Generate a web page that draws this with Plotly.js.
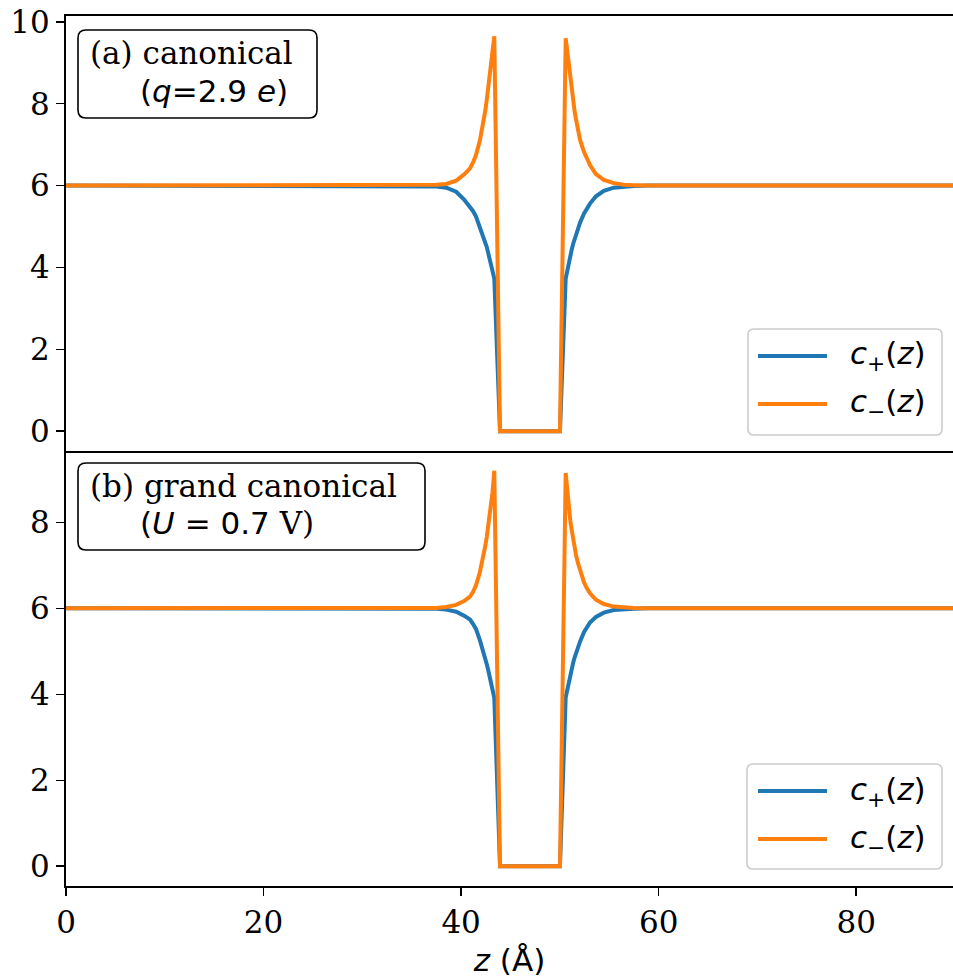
<!DOCTYPE html>
<html>
<head>
<meta charset="utf-8">
<script src="https://cdn.plot.ly/plotly-3.0.1.min.js"></script>
<style>html,body{margin:0;padding:0;background:#fff;}</style>
</head>
<body>
<div id="chart" style="width:953px;height:980px;"></div>
<script>
// z positions (Å)
const z = [0, 30, 35, 36.5, 37.5, 38.5, 39.5, 40.3, 40.9, 41.2, 41.5, 41.9, 42.1, 42.3, 42.45, 42.6, 42.75, 42.9, 43.0, 43.1, 43.18, 43.25, 43.31, 43.36, 43.94,
           50.01, 50.59, 50.64, 50.70, 50.78, 50.85, 50.95, 51.05, 51.2, 51.35, 51.5, 51.65, 51.85, 52.05, 52.45, 52.75, 53.05, 53.65, 54.45, 55.45, 56.5, 57.5, 58.95, 90];
// (a) canonical
const cPlusA  = [6, 6, 6.0, 6.0, 5.98, 5.95, 5.85, 5.66, 5.49, 5.38, 5.25, 5.0, 4.88, 4.72, 4.62, 4.5, 4.35, 4.2, 4.1, 4.02, 3.93, 3.85, 3.78, 3.73, 0,
                 0, 3.73, 3.8, 3.88, 3.96, 4.05, 4.17, 4.28, 4.44, 4.58, 4.71, 4.83, 4.98, 5.1, 5.32, 5.45, 5.56, 5.74, 5.87, 5.95, 5.98, 5.99, 6.0, 6];
const cMinusA = [6, 6, 6.0, 6.0, 6.02, 6.04, 6.12, 6.27, 6.42, 6.56, 6.74, 7.1, 7.33, 7.6, 7.83, 8.09, 8.4, 8.76, 8.95, 9.15, 9.3, 9.45, 9.57, 9.65, 0,
                 0, 9.6, 9.5, 9.35, 9.15, 8.95, 8.73, 8.52, 8.25, 8.0, 7.8, 7.6, 7.35, 7.11, 6.82, 6.65, 6.5, 6.28, 6.14, 6.06, 6.02, 6.01, 6.0, 6];
// (b) grand canonical
const cPlusB  = [6, 6, 6.0, 6.0, 5.99, 5.97, 5.92, 5.83, 5.74, 5.64, 5.52, 5.26, 5.12, 4.95, 4.83, 4.7, 4.56, 4.42, 4.32, 4.23, 4.14, 4.05, 3.98, 3.92, 0,
                 0, 3.93, 3.99, 4.07, 4.17, 4.26, 4.37, 4.47, 4.61, 4.74, 4.86, 4.98, 5.11, 5.23, 5.45, 5.56, 5.67, 5.8, 5.9, 5.96, 5.98, 5.99, 6.0, 6];
const cMinusB = [6, 6, 6.0, 6.0, 6.01, 6.03, 6.08, 6.17, 6.27, 6.38, 6.53, 6.84, 7.03, 7.27, 7.45, 7.66, 7.9, 8.15, 8.33, 8.52, 8.7, 8.88, 9.05, 9.2, 0,
                 0, 9.15, 9.02, 8.85, 8.65, 8.45, 8.25, 8.05, 7.82, 7.6, 7.4, 7.22, 7.04, 6.88, 6.6, 6.46, 6.35, 6.2, 6.1, 6.04, 6.02, 6.01, 6.0, 6];
const xTicks = [0, 20, 40, 60, 80];
const yTicksA = [0, 2, 4, 6, 8, 10];
const yTicksB = [0, 2, 4, 6, 8];
const seriesNames = ['<i>c</i><sub>+</sub>(<i>z</i>)', '<i>c</i><sub>−</sub>(<i>z</i>)'];
const panelLine1 = ['(a) canonical', '(b) grand canonical'];
const panelLine2 = ['(<i>q</i>=2.9 <i>e</i>)', '(<i>U</i> = 0.7<span style="font-family:\'DejaVu Serif\'"> V)</span>'];

const BLUE = '#1f77b4', ORANGE = '#ff7f0e';
const W = 953, H = 980, L = 66, R = 0, T = 16, B = 94;
const pw = W - L - R, ph = H - T - B;
const X = px => (px - L) / pw;
const Y = py => (H - B - py) / ph;
function rr(x0, y0, x1, y1, r) {
  const f = v => v.toFixed(5);
  return `M${f(X(x0 + r))},${f(Y(y0))} L${f(X(x1 - r))},${f(Y(y0))} Q${f(X(x1))},${f(Y(y0))} ${f(X(x1))},${f(Y(y0 + r))} ` +
         `L${f(X(x1))},${f(Y(y1 - r))} Q${f(X(x1))},${f(Y(y1))} ${f(X(x1 - r))},${f(Y(y1))} ` +
         `L${f(X(x0 + r))},${f(Y(y1))} Q${f(X(x0))},${f(Y(y1))} ${f(X(x0))},${f(Y(y1 - r))} ` +
         `L${f(X(x0))},${f(Y(y0 + r))} Q${f(X(x0))},${f(Y(y0))} ${f(X(x0 + r))},${f(Y(y0))} Z`;
}

const lw = 4;
const traces = [
  {x: z, y: cPlusA, xaxis: 'x2', yaxis: 'y2', mode: 'lines', line: {color: BLUE, width: lw}, name: 'c+', showlegend: false},
  {x: z, y: cMinusA, xaxis: 'x2', yaxis: 'y2', mode: 'lines', line: {color: ORANGE, width: lw}, name: 'c-', showlegend: false},
  {x: z, y: cPlusB, xaxis: 'x', yaxis: 'y', mode: 'lines', line: {color: BLUE, width: lw}, name: 'c+', showlegend: false},
  {x: z, y: cMinusB, xaxis: 'x', yaxis: 'y', mode: 'lines', line: {color: ORANGE, width: lw}, name: 'c-', showlegend: false}
];

const tickFont = {family: 'DejaVu Serif', size: 31, color: '#000'};
const axCommon = {showline: true, linewidth: 2, linecolor: '#000', showgrid: false, zeroline: false,
                  ticks: 'outside', ticklen: 8, tickwidth: 1.5, tickcolor: '#000', tickfont: tickFont};

const shapes = [];
const annotations = [];
// panel boxes
const boxes = [[78, 30, 317, 118, 53, 91], [78, 463, 425, 550, 486, 523]];
boxes.forEach((b, i) => {
  shapes.push({type: 'path', xref: 'paper', yref: 'paper', path: rr(b[0], b[1], b[2], b[3], 8),
               line: {color: '#000', width: 1.6}, fillcolor: '#fff', layer: 'above'});
  annotations.push({xref: 'paper', yref: 'paper', x: X(88), y: Y(b[4]), xanchor: 'left', yanchor: 'middle',
                    text: panelLine1[i], showarrow: false, font: {family: 'DejaVu Serif', size: 31, color: '#000'}});
  annotations.push({xref: 'paper', yref: 'paper', x: X(138), y: Y(b[5]), xanchor: 'left', yanchor: 'middle',
                    text: panelLine2[i], showarrow: false, font: {family: 'DejaVu Sans', size: 31, color: '#000'}});
});
// legends
const legs = [[748, 329, 942, 435, 356, 404], [747, 764, 942, 869, 791, 839]];
legs.forEach(g => {
  shapes.push({type: 'path', xref: 'paper', yref: 'paper', path: rr(g[0], g[1], g[2], g[3], 6),
               line: {color: '#cccccc', width: 1.6}, fillcolor: 'rgba(255,255,255,0.8)', layer: 'above'});
  [[g[4], BLUE, seriesNames[0]], [g[5], ORANGE, seriesNames[1]]].forEach(([yy, col, nm]) => {
    shapes.push({type: 'line', xref: 'paper', yref: 'paper', x0: X(758), x1: X(827), y0: Y(yy), y1: Y(yy),
                 line: {color: col, width: lw}, layer: 'above'});
    annotations.push({xref: 'paper', yref: 'paper', x: X(848), y: Y(yy), xanchor: 'left', yanchor: 'middle',
                      text: nm, showarrow: false, font: {family: 'DejaVu Sans', size: 31, color: '#000'}});
  });
});

const layout = {
  width: W, height: H,
  margin: {l: L, r: R, t: T, b: B, pad: 0},
  paper_bgcolor: '#fff', plot_bgcolor: '#fff',
  showlegend: false,
  xaxis: Object.assign({}, axCommon, {domain: [0, 1], anchor: 'y', range: [0, 89.8], tickvals: xTicks,
          title: {text: '<i>z</i> (Å)', font: {family: 'DejaVu Sans', size: 31, color: '#000'}, standoff: 10}}),
  xaxis2: Object.assign({}, axCommon, {domain: [0, 1], anchor: 'y2', range: [0, 89.8], tickvals: xTicks,
          showticklabels: false, ticks: '', mirror: true}),
  yaxis: Object.assign({}, axCommon, {domain: [0, 0.5], anchor: 'x', range: [-0.46, 9.66], tickvals: yTicksB}),
  yaxis2: Object.assign({}, axCommon, {domain: [0.5, 1], anchor: 'x2', range: [-0.483, 10.143], tickvals: yTicksA}),
  shapes: shapes,
  annotations: annotations
};

Plotly.newPlot('chart', traces, layout, {displayModeBar: false, staticPlot: true});
</script>
</body>
</html>
